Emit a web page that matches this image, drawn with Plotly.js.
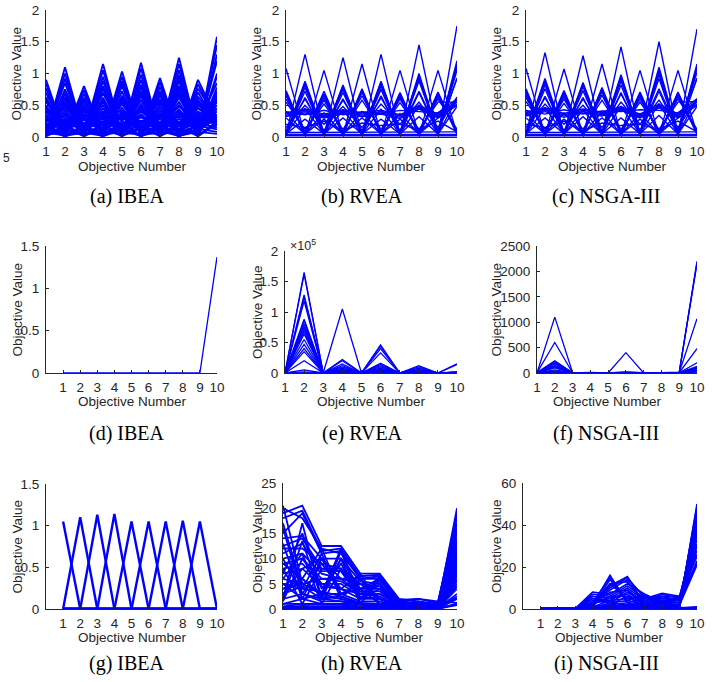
<!DOCTYPE html>
<html>
<head>
<meta charset="utf-8">
<script src="https://cdn.plot.ly/plotly-3.0.1.min.js"></script>
<style>html,body{margin:0;padding:0;background:#fff;}#chart{width:718px;height:682px;}</style>
</head>
<body>
<div id="chart"></div>
<script>
// ---------- DATA ----------
const objectives = [1,2,3,4,5,6,7,8,9,10];
const captions = ["(a) IBEA","(b) RVEA","(c) NSGA-III","(d) IBEA","(e) RVEA","(f) NSGA-III","(g) IBEA","(h) RVEA","(i) NSGA-III"];
const yTicksRow1 = [0,0.5,1,1.5,2];
const yTicksD = [0,0.5,1,1.5];
const yTicksE = [0,50000,100000,150000,200000];
const yTickTextE = ["0","0.5","1","1.5","2"];
const yTicksF = [0,500,1000,1500,2000,2500];
const yTicksG = [0,0.5,1,1.5];
const yTicksH = [0,5,10,15,20,25];
const yTicksI = [0,20,40,60];

const linesA = [
[0.02,1.10,0.03,1.15,0.02,1.17,0.03,1.25,0.02,1.58],
[0.05,1.00,0.04,1.05,0.05,1.08,0.04,1.15,0.05,1.45],
[0.03,0.92,0.05,0.95,0.03,0.98,0.05,1.05,0.03,1.30],
[0.06,0.85,0.02,0.88,0.06,0.90,0.02,0.97,0.06,1.20],
[0.04,0.75,0.06,0.80,0.04,0.82,0.06,0.88,0.04,1.00],
[0.08,0.68,0.05,0.70,0.08,0.72,0.05,0.80,0.08,0.95],
[0.05,0.60,0.07,0.62,0.05,0.65,0.07,0.70,0.05,0.78],
[0.10,0.55,0.08,0.57,0.10,0.58,0.08,0.62,0.10,0.72],
[0.07,0.48,0.10,0.50,0.07,0.52,0.10,0.55,0.07,0.65],
[0.12,0.42,0.09,0.45,0.12,0.46,0.09,0.50,0.12,0.60],
[0.09,0.38,0.12,0.40,0.09,0.42,0.12,0.44,0.09,0.55],
[0.14,0.33,0.11,0.35,0.14,0.36,0.11,0.38,0.14,0.50],
[0.11,0.28,0.14,0.30,0.11,0.31,0.14,0.33,0.11,0.30],
[0.16,0.24,0.13,0.25,0.16,0.26,0.13,0.28,0.16,0.28],
[0.02,0.20,0.02,0.21,0.02,0.22,0.02,0.24,0.02,0.25],
[0.01,0.15,0.01,0.16,0.01,0.17,0.01,0.18,0.01,0.22],
[0.03,0.10,0.03,0.11,0.03,0.12,0.03,0.13,0.03,0.20],
[0.04,0.52,0.03,0.60,0.04,0.66,0.03,0.75,0.04,0.62],
[0.02,0.70,0.04,0.76,0.02,0.78,0.04,0.92,0.02,0.68],
[0.06,0.36,0.05,0.55,0.06,0.48,0.05,0.66,0.06,0.58],
[0.90,0.03,0.80,0.02,1.03,0.03,0.93,0.02,0.90,0.28],
[0.84,0.05,0.74,0.04,0.95,0.05,0.86,0.04,0.83,0.25],
[0.77,0.02,0.68,0.06,0.88,0.02,0.79,0.06,0.76,0.30],
[0.70,0.06,0.62,0.03,0.80,0.06,0.72,0.03,0.70,0.22],
[0.63,0.04,0.56,0.07,0.72,0.04,0.65,0.07,0.63,0.27],
[0.57,0.08,0.50,0.05,0.65,0.08,0.59,0.05,0.57,0.20],
[0.50,0.06,0.45,0.09,0.58,0.06,0.52,0.09,0.50,0.29],
[0.45,0.10,0.40,0.07,0.52,0.10,0.47,0.07,0.45,0.24],
[0.40,0.08,0.35,0.11,0.46,0.08,0.42,0.11,0.40,0.26],
[0.35,0.12,0.31,0.09,0.40,0.12,0.37,0.09,0.35,0.18],
[0.30,0.10,0.27,0.13,0.35,0.10,0.32,0.13,0.30,0.30],
[0.26,0.14,0.23,0.11,0.30,0.14,0.28,0.11,0.26,0.23],
[0.22,0.01,0.20,0.01,0.25,0.01,0.23,0.01,0.22,0.15],
[0.18,0.02,0.16,0.02,0.21,0.02,0.19,0.02,0.18,0.12],
[0.13,0.01,0.12,0.01,0.15,0.01,0.14,0.01,0.13,0.08],
[0.08,0.02,0.07,0.02,0.10,0.02,0.09,0.02,0.08,0.05],
[0.60,0.02,0.50,0.02,0.85,0.02,0.70,0.02,0.58,0.26],
[0.42,0.03,0.58,0.03,0.62,0.03,0.38,0.03,0.52,0.21],
[0.20,0.22,0.18,0.21,0.19,0.23,0.20,0.22,0.25,0.28],
[0.15,0.17,0.16,0.18,0.15,0.17,0.16,0.18,0.22,0.26],
[0.10,0.12,0.11,0.13,0.10,0.12,0.11,0.13,0.20,0.24],
[0.05,0.06,0.05,0.07,0.05,0.06,0.05,0.07,0.10,0.30],
[0.25,0.45,0.20,0.40,0.28,0.44,0.22,0.48,0.30,0.35],
[0.32,0.18,0.36,0.20,0.38,0.16,0.34,0.22,0.33,0.27],
[0.18,0.35,0.15,0.38,0.20,0.40,0.17,0.42,0.21,0.45],
[0.28,0.08,0.30,0.10,0.33,0.07,0.29,0.09,0.28,0.25],
[0.12,0.28,0.10,0.32,0.14,0.34,0.12,0.36,0.15,0.40],
[0.38,0.25,0.33,0.28,0.42,0.24,0.36,0.30,0.37,0.23],
[0.05,0.30,0.06,0.33,0.05,0.35,0.06,0.40,0.05,0.45],
[0.48,0.15,0.42,0.18,0.55,0.15,0.46,0.18,0.46,0.26],
[0.22,0.62,0.18,0.68,0.24,0.70,0.20,0.80,0.22,0.85],
[0.55,0.20,0.47,0.22,0.60,0.20,0.55,0.22,0.52,0.29]
];

const linesB = [
[0.03,1.30,0.03,1.25,0.03,1.30,0.03,1.45,0.03,1.75],
[0.05,0.88,0.04,0.82,0.05,0.88,0.04,1.00,0.05,1.20],
[0.04,0.85,0.05,0.80,0.04,0.86,0.05,0.97,0.04,1.15],
[0.06,0.82,0.03,0.78,0.06,0.84,0.03,0.95,0.06,1.12],
[0.03,0.78,0.06,0.75,0.03,0.80,0.06,0.92,0.03,1.10],
[0.05,0.72,0.05,0.70,0.05,0.75,0.05,0.88,0.05,1.05],
[0.10,0.60,0.10,0.58,0.10,0.62,0.10,0.72,0.10,0.92],
[0.15,0.50,0.20,0.48,0.15,0.52,0.20,0.55,0.15,0.63],
[1.08,0.03,1.05,0.03,1.15,0.03,1.05,0.03,1.05,0.05],
[0.73,0.04,0.72,0.04,0.76,0.04,0.70,0.04,0.71,0.06],
[0.70,0.05,0.68,0.05,0.74,0.05,0.68,0.05,0.69,0.08],
[0.68,0.03,0.66,0.03,0.72,0.03,0.66,0.03,0.67,0.04],
[0.65,0.06,0.62,0.06,0.70,0.06,0.63,0.06,0.64,0.10],
[0.60,0.08,0.58,0.08,0.65,0.08,0.60,0.08,0.60,0.12],
[0.55,0.12,0.52,0.12,0.58,0.12,0.54,0.12,0.55,0.55],
[0.36,0.42,0.34,0.41,0.36,0.40,0.33,0.48,0.34,0.52],
[0.34,0.40,0.32,0.39,0.34,0.38,0.31,0.46,0.32,0.58],
[0.38,0.44,0.36,0.43,0.38,0.42,0.35,0.50,0.36,0.55],
[0.32,0.38,0.30,0.37,0.32,0.36,0.29,0.44,0.30,0.50],
[0.40,0.35,0.42,0.35,0.40,0.37,0.42,0.40,0.38,0.60],
[0.40,0.05,0.38,0.05,0.40,0.05,0.37,0.05,0.38,0.55],
[0.05,0.45,0.05,0.42,0.05,0.44,0.05,0.50,0.05,0.60],
[0.30,0.05,0.28,0.05,0.30,0.05,0.28,0.05,0.30,0.50],
[0.05,0.28,0.05,0.30,0.05,0.28,0.05,0.32,0.05,0.48],
[0.20,0.15,0.25,0.10,0.22,0.18,0.20,0.12,0.25,0.08],
[0.05,0.62,0.05,0.60,0.05,0.65,0.05,0.70,0.05,0.93],
[0.02,0.02,0.02,0.02,0.02,0.02,0.02,0.02,0.02,0.02],
[0.04,0.04,0.04,0.04,0.04,0.04,0.04,0.04,0.04,0.04],
[0.07,0.07,0.07,0.07,0.07,0.07,0.07,0.07,0.07,0.08]
];

const linesC = [
[0.03,1.33,0.03,1.28,0.03,1.42,0.03,1.50,0.03,1.70],
[0.05,0.92,0.04,0.86,0.05,0.98,0.04,1.10,0.05,1.15],
[0.04,0.89,0.05,0.84,0.05,0.95,0.05,1.06,0.04,1.12],
[0.06,0.86,0.03,0.82,0.06,0.92,0.03,1.02,0.06,1.10],
[0.03,0.82,0.06,0.79,0.03,0.88,0.06,0.98,0.03,1.08],
[0.05,0.76,0.05,0.73,0.05,0.82,0.05,0.92,0.05,1.02],
[0.10,0.62,0.10,0.60,0.10,0.68,0.10,0.76,0.10,0.92],
[0.15,0.52,0.20,0.50,0.15,0.55,0.20,0.58,0.15,0.60],
[1.08,0.03,1.07,0.03,1.15,0.03,1.05,0.03,1.05,0.05],
[0.76,0.04,0.73,0.04,0.78,0.04,0.71,0.04,0.71,0.06],
[0.73,0.05,0.70,0.05,0.76,0.05,0.69,0.05,0.69,0.08],
[0.70,0.03,0.68,0.03,0.74,0.03,0.67,0.03,0.67,0.04],
[0.66,0.06,0.64,0.06,0.71,0.06,0.64,0.06,0.64,0.10],
[0.62,0.08,0.60,0.08,0.66,0.08,0.60,0.08,0.60,0.12],
[0.56,0.12,0.53,0.12,0.58,0.12,0.55,0.12,0.55,0.56],
[0.37,0.44,0.35,0.42,0.37,0.46,0.34,0.50,0.34,0.52],
[0.35,0.42,0.33,0.40,0.35,0.44,0.32,0.48,0.32,0.58],
[0.39,0.46,0.37,0.44,0.39,0.48,0.36,0.52,0.36,0.55],
[0.33,0.40,0.31,0.38,0.33,0.42,0.30,0.46,0.30,0.50],
[0.42,0.36,0.43,0.36,0.41,0.40,0.43,0.42,0.38,0.60],
[0.40,0.05,0.38,0.05,0.40,0.05,0.37,0.05,0.38,0.55],
[0.05,0.46,0.05,0.43,0.05,0.48,0.05,0.52,0.05,0.60],
[0.30,0.05,0.28,0.05,0.30,0.05,0.28,0.05,0.30,0.50],
[0.05,0.30,0.05,0.32,0.05,0.30,0.05,0.34,0.05,0.48],
[0.20,0.15,0.25,0.10,0.22,0.18,0.20,0.12,0.25,0.08],
[0.05,0.64,0.05,0.62,0.05,0.70,0.05,0.72,0.05,0.93],
[0.02,0.02,0.02,0.02,0.02,0.02,0.02,0.02,0.02,0.02],
[0.04,0.04,0.04,0.04,0.04,0.04,0.04,0.04,0.04,0.04],
[0.07,0.07,0.07,0.07,0.07,0.07,0.07,0.07,0.07,0.08]
];

const linesD = [
[0,0,0,0,0,0,0,0,0,1.37]
];

const linesE = [
[0,165000,0,2000,0,5000,0,1000,0,15000],
[0,162000,0,1000,0,4000,0,1000,0,14000],
[0,128000,0,22000,0,46000,0,10000,0,1000],
[0,125000,0,20000,0,44000,0,8000,0,2000],
[0,118000,0,15000,0,40000,0,12000,0,1000],
[0,88000,0,12000,0,33000,0,6000,0,1000],
[0,85000,0,10000,0,16000,0,5000,0,1000],
[0,80000,0,8000,0,14000,0,3000,0,1000],
[0,76000,0,6000,0,12000,0,2000,0,1000],
[0,72000,0,5000,0,10000,0,2000,0,0],
[0,68000,0,4000,0,8000,0,1000,0,0],
[0,64000,0,3000,0,6000,0,1000,0,0],
[0,55000,0,2000,0,5000,0,0,0,0],
[0,47000,0,1000,0,4000,0,0,0,0],
[0,40000,0,1000,0,3000,0,0,0,0],
[0,35000,0,0,0,2000,0,0,0,0],
[0,20000,0,105000,0,2000,0,1000,0,1000],
[0,5000,0,0,0,0,0,0,0,0],
[0,2000,0,0,0,0,0,0,0,500],
[0,0,0,0,0,0,0,0,0,0]
];

const linesF = [
[0,1100,10,5,0,20,0,5,15,2200],
[5,600,5,3,0,400,0,5,10,2180],
[10,240,3,10,2,15,5,3,12,2150],
[3,220,2,2,0,10,0,2,8,1070],
[2,200,5,5,0,8,0,3,5,480],
[5,180,0,3,2,5,0,2,6,200],
[0,150,0,0,0,5,0,0,3,130],
[0,130,0,2,0,3,0,0,5,110],
[0,120,0,0,0,2,0,0,2,100],
[0,100,0,0,0,2,0,0,3,90],
[0,60,0,0,0,0,0,0,2,80],
[0,40,0,0,0,0,0,0,5,70],
[0,20,0,0,0,0,0,0,2,60],
[0,10,0,0,0,0,0,0,0,50],
[20,5,0,0,0,0,0,0,0,30],
[0,0,0,0,0,0,0,0,0,20]
];

const linesG = [
[1.05,0,0,0,0,0,0,0,0,0],
[0,1.10,0,0,0,0,0,0,0,0],
[0,0,1.13,0,0,0,0,0,0,0],
[0,0,0,1.14,0,0,0,0,0,0],
[0,0,0,0,1.05,0,0,0,0,0],
[0,0,0,0,0,1.05,0,0,0,0],
[0,0,0,0,0,0,1.05,0,0,0],
[0,0,0,0,0,0,0,1.06,0,0],
[0,0,0,0,0,0,0,0,1.05,0]
];

const linesH = [
[20.5,5,3,2,1,1,0.5,0.3,0.2,20],
[20,18,12,11,6,6.5,1.5,1.2,0.8,19],
[19,20.5,12.5,12.5,7,7,2,1.5,1,18],
[18,19.5,11.5,12,6.5,6.8,1.8,2,1.2,17],
[15,19,11,11.5,6,6,1.5,1,0.9,16],
[14,14.5,10,10,5.5,5,1.2,0.8,0.5,15],
[12,12,9,8,5,4.5,1,0.8,0.5,14],
[12.5,14,8,8,4,4,1,0.7,0.6,13],
[11,13,7.5,7.5,3.5,3.5,0.8,0.6,0.4,12],
[10,11,7,6,3,3,0.8,0.5,0.4,11],
[9,10,6,5.5,3,2.5,0.6,0.4,0.3,10],
[8,9,5,5,2.5,2,0.5,0.4,0.3,9],
[7,8,4.5,4,2,2,0.5,0.3,0.2,8.5],
[6,5,3,3,1.5,1.5,0.4,0.3,0.2,7.5],
[5,4,3.5,2.5,1.2,1,0.3,0.2,0.1,7],
[4,6,2.5,2,1,1,0.3,0.2,0.1,6.5],
[3,4.5,2,2.5,1,0.8,0.2,0.2,0.1,6],
[2,3,1.5,1.5,0.8,0.6,0.2,0.1,0.1,5.5],
[1,2,1,1,0.5,0.5,0.1,0.1,0.1,5],
[0.5,1,0.8,0.8,0.4,0.4,0.1,0.1,0.05,2.5],
[0.3,0.6,0.5,0.5,0.3,0.3,0.1,0.1,0.05,2.2],
[0.2,0.4,0.3,0.3,0.2,0.2,0.05,0.05,0.05,1],
[0.1,0.2,0.2,0.2,0.1,0.1,0.05,0.05,0.05,0.8],
[13,2,10,3,5,2,1,0.5,0.3,12.5],
[2,13.5,2,11.5,1,6,0.5,1,0.3,10.5],
[8,1,8,7.5,2,4,0.5,0.3,0.2,9.5],
[1.5,10,5,4,7,1,0.3,0.2,0.1,8],
[3,6,12,3,4,1,0.5,0.2,0.1,4],
[5,2,3,12,2,6.5,0.5,0.2,0.1,3],
[1,1,1,1,1,1,0.2,0.1,0.1,2],
[10,3,2,1.5,1,0.5,0.1,0.1,0.1,1],
[6,11,1,8,3,5.5,1.8,0.5,0.1,11.5],
[4,5,6,6,5,4,1.5,2,1.5,1.2],
[17,4,11,2,6,1,1.5,0.5,1,14],
[2,17,2,10,1,6,1,1.5,0.5,16],
[16,3,9,4,3,3,1,0.5,0.3,13.5],
[7,15,4,9,2,5,0.8,0.5,0.3,7.2],
[3,8,10,6,6,2,0.6,0.4,0.2,4.5],
[9,6,3,10,4,6,1.2,0.8,0.3,9]
];

const linesI = [
[0.3,0.2,0.3,2,16,3,1,2,1,50],
[0.2,0.3,0.2,3,15,4,2,1,1.5,49],
[0.1,0.2,0.1,1,12,13,3,2,2,48],
[0.3,0.1,0.2,1.5,11,15.5,2,3,3,46],
[0.2,0.2,0.1,2,10,15,5,4,3,45],
[0.1,0.1,0.1,3,9,14,6,5,4,43],
[0.2,0.1,0.2,8,7,12,7,3,5,40],
[0.1,0.2,0.1,7,6,11,5,7.5,6,38],
[0.3,0.2,0.1,6,5,10,4,7,5,36],
[0.1,0.1,0.2,5,4,9,3,6,4,35],
[0.2,0.3,0.3,4,3,8,3,5,5,33],
[0.1,0.1,0.1,3,5,7,2,4,4,31],
[0.2,0.1,0.2,2,6,6,4,3,3,30],
[0.1,0.2,0.1,1,4,5,6,2,2,28],
[0.3,0.1,0.2,0.5,3,4,7,3,5,26],
[0.1,0.1,0.1,1,2,3,5,6,6,25],
[0.2,0.2,0.1,0.5,1,2,3,5,4,23],
[0.1,0.1,0.2,0.5,1.5,1.5,2,4,3,22],
[0.1,0.1,0.1,0.3,1,1,1,3,2,21],
[0.2,0.1,0.1,2,8,9,2,1,1,44],
[0.1,0.2,0.1,1,14,3,1,1,1,47],
[0.1,0.1,0.1,0.2,0.5,0.5,0.3,0.3,0.3,1],
[0.2,0.1,0.1,0.3,0.3,0.4,0.2,0.2,0.2,0.5],
[0.1,0.1,0.1,0.1,0.2,0.2,0.1,0.1,0.1,0.3],
[0.1,0.1,0.2,3,4,1,0.5,0.5,0.5,0.8],
[0.2,0.1,0.1,1,2,6,1,1,1,42],
[0.1,0.1,0.1,5,3,2,1,1,2,39],
[0.1,0.2,0.1,2,12,5,3,2,6,37]
];

// ---------- LAYOUT CONFIG (pixel boxes) ----------
const W = 718, H = 682;
const panels = [
  {lines: linesA, box:[46,217,10,137],  xr:[1,10], yr:[0,2],      yt:yTicksRow1, lw:1.9},
  {lines: linesB, box:[286,457,10,137], xr:[1,10], yr:[0,2],      yt:yTicksRow1, lw:1.4},
  {lines: linesC, box:[526,697,10,137], xr:[1,10], yr:[0,2],      yt:yTicksRow1, lw:1.4},
  {lines: linesD, box:[46,217,246,373], xr:[0,10], yr:[0,1.5],    yt:yTicksD, lw:1.3},
  {lines: linesE, box:[285,457,251,373],xr:[1,10], yr:[0,200000], yt:yTicksE, ytt:yTickTextE, lw:1.3},
  {lines: linesF, box:[537,697,246,373],xr:[1,10], yr:[0,2500],   yt:yTicksF, lw:1.3},
  {lines: linesG, box:[46,217,484,609], xr:[0,10], yr:[0,1.5],    yt:yTicksG, lw:2.4},
  {lines: linesH, box:[283,457,483,609],xr:[1,10], yr:[0,25],     yt:yTicksH, lw:1.8},
  {lines: linesI, box:[523,697,483,609],xr:[0,10], yr:[0,60],     yt:yTicksI, lw:1.6}
];
const xTitleX = [132,372,612,132,372,607,132,369,609];
const yTitleX = [16,256,496,17,257,496,17,257,496];
const xTitleY = [166,166,166,401,401,401,637,637,637];
const capX = [127,362,606,127,362,606,127,362,606];
const capY = [197,197,197,433,433,433,663,663,663];

const axisColor = '#262626';
const tickFont = {family:'Liberation Sans, Arial, sans-serif', size:13.5, color:axisColor};
const labelFont = {family:'Liberation Sans, Arial, sans-serif', size:13.5, color:axisColor};
const capFont = {family:'Liberation Serif, Times New Roman, serif', size:20, color:'#000'};

const traces = [];
const layout = {
  width:W, height:H, margin:{l:0,r:0,t:0,b:0}, showlegend:false, hovermode:false,
  paper_bgcolor:'#fff', plot_bgcolor:'#fff', annotations:[]
};

panels.forEach((p, i) => {
  const n = i + 1;
  const xs = [], ys = [];
  p.lines.forEach(row => {
    row.forEach((v, k) => { xs.push(objectives[k]); ys.push(v); });
    xs.push(null); ys.push(null);
  });
  traces.push({
    type:'scatter', mode:'lines', x:xs, y:ys,
    xaxis: n === 1 ? 'x' : 'x' + n, yaxis: n === 1 ? 'y' : 'y' + n,
    line:{color:'#0000ff', width:p.lw}, connectgaps:false
  });
  const [l, r, t, b] = p.box;
  const common = {showline:true, linecolor:axisColor, linewidth:1, ticks:'inside', ticklen:3,
    tickcolor:axisColor, tickwidth:1, tickfont:tickFont, zeroline:false, showgrid:false, fixedrange:true};
  layout[n === 1 ? 'xaxis' : 'xaxis' + n] = Object.assign({}, common, {
    domain:[l / W, r / W], range:p.xr, tickmode:'array', tickvals:objectives,
    anchor: n === 1 ? 'y' : 'y' + n, ticklabelstandoff:2
  });
  const ya = Object.assign({}, common, {
    domain:[1 - b / H, 1 - t / H], range:p.yr, tickmode:'array', tickvals:p.yt,
    anchor: n === 1 ? 'x' : 'x' + n, ticklabelstandoff:3
  });
  if (p.ytt) ya.ticktext = p.ytt;
  layout[n === 1 ? 'yaxis' : 'yaxis' + n] = ya;

  const midY = (t + b) / 2;
  layout.annotations.push({xref:'paper', yref:'paper', x:xTitleX[i] / W, y:1 - xTitleY[i] / H,
    text:'Objective Number', showarrow:false, font:labelFont, xanchor:'center', yanchor:'middle'});
  layout.annotations.push({xref:'paper', yref:'paper', x:yTitleX[i] / W, y:1 - midY / H,
    text:'Objective Value', showarrow:false, font:labelFont, textangle:-90, xanchor:'center', yanchor:'middle'});
  layout.annotations.push({xref:'paper', yref:'paper', x:capX[i] / W, y:1 - capY[i] / H,
    text:captions[i], showarrow:false, font:capFont, xanchor:'center', yanchor:'middle'});
});

// exponent label for panel (e)
layout.annotations.push({xref:'paper', yref:'paper', x:288 / W, y:1 - 245 / H,
  text:'\u00d710<sup>5</sup>', showarrow:false, font:{family:'Liberation Sans, Arial, sans-serif', size:12.5, color:axisColor},
  xanchor:'left', yanchor:'middle'});
// stray label at the left edge
layout.annotations.push({xref:'paper', yref:'paper', x:1 / W, y:1 - 158 / H,
  text:'5', showarrow:false, font:{family:'Liberation Sans, Arial, sans-serif', size:12, color:axisColor},
  xanchor:'left', yanchor:'middle'});

Plotly.newPlot('chart', traces, layout, {staticPlot:true, displayModeBar:false});
</script>
</body>
</html>
